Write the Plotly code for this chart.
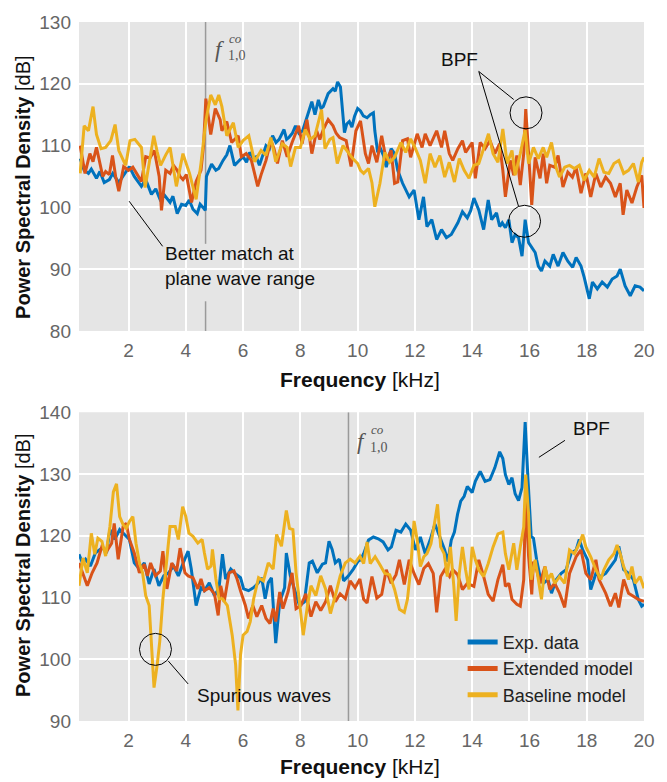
import plotly.graph_objects as go

# ---------------- data ----------------
# Top panel
top_exp_f = [0.31,0.45,0.6,0.7,0.88,1.0,1.15,1.33,1.45,1.66,1.8,2.03,2.2,2.45,2.6,2.8,2.95,3.1,3.25,3.45,3.55,3.7,3.85,4.0,4.12,4.25,4.4,4.5,4.6,4.68,4.72,4.9,5.05,5.15,5.3,5.43,5.54,5.7,5.85,6.0,6.12,6.23,6.35,6.46,6.57,6.7,6.8,6.92,7.03,7.15,7.26,7.43,7.52,7.6,7.72,7.83,7.95,8.08,8.23,8.32,8.4,8.51,8.63,8.72,8.8,8.97,9.14,9.22,9.3,9.4,9.47,9.54,9.62,9.71,9.8,9.89,10.0,10.1,10.2,10.33,10.44,10.55,10.6,10.7,10.8,10.9,11.0,11.08,11.17,11.29,11.4,11.57,11.7,11.8,11.97,12.05,12.14,12.3,12.42,12.59,12.68,12.76,12.93,13.1,13.27,13.38,13.5,13.66,13.83,13.95,14.06,14.23,14.4,14.56,14.68,14.85,14.96,15.05,15.16,15.28,15.39,15.5,15.62,15.74,15.85,15.97,16.08,16.2,16.31,16.42,16.54,16.71,16.83,17.0,17.17,17.34,17.51,17.63,17.8,17.91,18.09,18.2,18.37,18.54,18.72,18.89,19.06,19.17,19.34,19.52,19.69,19.86,20.0]
top_exp_v = [107.9,106.0,105.5,106.2,104.7,105.8,104.0,104.5,105.5,104.0,105.0,106.6,105.0,103.4,104.5,102.1,103.0,101.3,102.0,100.8,101.8,99.0,100.5,100.3,101.2,99.7,99.0,100.5,100.0,99.5,105.0,107.0,106.0,106.3,107.6,108.5,110.0,106.8,107.5,108.2,107.3,108.9,108.0,108.2,106.8,108.5,110.0,109.5,111.6,110.5,111.0,112.6,111.0,111.3,112.0,113.2,112.0,112.4,114.5,116.0,117.1,115.0,117.4,116.0,116.3,118.4,119.2,118.8,120.3,119.5,116.0,112.1,113.5,113.9,113.0,114.7,116.0,115.6,114.8,114.5,115.0,115.3,112.4,108.9,109.5,108.4,106.5,108.0,109.5,108.7,106.0,103.9,102.5,101.7,102.8,100.5,98.0,101.7,96.9,98.0,96.5,94.8,96.4,95.1,95.6,96.5,97.5,99.3,98.3,99.5,101.5,99.6,96.4,101.2,98.0,99.1,96.9,97.5,96.7,98.0,94.3,95.6,95.1,92.1,98.0,94.3,93.5,92.7,90.5,89.7,91.3,90.5,92.4,90.5,92.7,91.3,90.3,91.9,90.5,88.7,85.2,87.9,86.8,87.9,87.1,88.4,88.9,90.0,87.3,85.7,87.3,87.1,86.5]

top_ext_f = [0.31,0.48,0.65,0.76,0.88,1.0,1.1,1.2,1.33,1.44,1.55,1.66,1.83,2.0,2.15,2.28,2.45,2.6,2.75,2.9,3.07,3.15,3.3,3.45,3.57,3.7,3.8,3.9,4.02,4.2,4.36,4.53,4.62,4.7,4.87,5.03,5.2,5.26,5.43,5.6,5.72,5.83,5.94,6.11,6.29,6.4,6.51,6.63,6.8,6.97,7.08,7.2,7.37,7.54,7.71,7.94,8.06,8.23,8.4,8.57,8.68,8.8,8.97,9.14,9.25,9.37,9.6,9.77,9.94,10.1,10.27,10.38,10.5,10.67,10.84,11.0,11.17,11.29,11.4,11.57,11.74,11.85,12.08,12.25,12.36,12.53,12.76,12.93,13.04,13.2,13.32,13.5,13.66,13.77,14.0,14.11,14.28,14.45,14.62,14.79,14.96,15.07,15.16,15.33,15.45,15.56,15.68,15.8,15.87,15.97,16.08,16.2,16.37,16.48,16.6,16.71,16.88,17.0,17.17,17.34,17.5,17.63,17.8,17.97,18.14,18.32,18.49,18.66,18.83,19.0,19.17,19.27,19.4,19.58,19.75,19.92,20.0]
top_ext_v = [110.0,105.5,108.7,107.4,109.7,107.0,105.0,105.8,105.3,108.4,105.0,102.6,106.6,106.0,106.5,105.5,104.2,108.2,108.0,109.2,105.0,99.5,106.0,105.5,106.8,106.0,105.0,104.5,105.3,100.8,104.2,106.0,110.0,117.6,111.8,116.0,114.2,112.4,113.9,110.5,111.0,111.6,108.2,108.7,107.6,105.5,103.4,105.3,107.6,110.8,109.5,107.1,110.8,108.2,110.5,113.2,110.3,114.2,108.7,112.4,111.0,112.6,114.2,113.2,112.0,111.3,110.8,106.6,112.4,114.0,108.7,107.1,110.0,107.3,111.6,107.6,109.2,103.9,104.1,110.8,111.1,108.1,111.9,109.7,111.9,110.0,112.4,109.7,112.4,108.7,107.6,109.5,110.8,108.9,110.5,104.7,110.5,109.5,110.8,108.7,110.3,106.0,101.7,107.6,105.2,108.4,103.6,108.7,115.9,108.7,100.4,108.1,104.7,108.7,103.9,106.8,106.5,108.4,103.3,105.7,104.9,106.5,102.3,105.5,101.7,105.5,103.3,104.9,103.9,101.7,103.9,98.8,102.8,100.7,103.3,105.2,99.9]

top_base_f = [0.31,0.45,0.6,0.76,0.88,1.04,1.2,1.38,1.53,1.66,1.9,2.05,2.22,2.45,2.58,2.75,2.88,3.0,3.12,3.3,3.45,3.67,3.9,4.02,4.13,4.36,4.53,4.7,4.87,5.03,5.15,5.26,5.43,5.66,5.83,6.0,6.2,6.4,6.63,6.8,6.97,7.14,7.37,7.54,7.66,7.83,8.0,8.17,8.34,8.51,8.74,8.86,9.03,9.14,9.29,9.49,9.66,9.83,10.0,10.1,10.21,10.38,10.5,10.6,10.78,10.95,11.12,11.29,11.51,11.68,11.85,12.02,12.19,12.36,12.53,12.7,12.87,13.04,13.2,13.38,13.55,13.72,13.89,14.06,14.23,14.4,14.57,14.73,14.9,15.07,15.22,15.39,15.5,15.68,15.85,15.97,16.14,16.31,16.48,16.6,16.77,16.94,17.05,17.23,17.4,17.57,17.74,17.91,18.09,18.26,18.43,18.6,18.77,18.95,19.12,19.29,19.46,19.63,19.8,19.92,20.0]
top_base_v = [105.5,113.2,112.4,116.3,111.8,109.5,109.7,110.8,113.4,109.2,106.8,110.8,111.0,109.7,103.2,108.0,111.6,109.0,106.8,108.5,109.7,103.4,108.7,107.0,105.5,101.3,107.1,114.0,118.2,116.6,118.2,116.3,111.6,113.7,109.7,110.8,111.6,107.4,109.2,108.4,111.3,107.4,110.3,109.7,106.6,109.7,109.7,112.6,111.0,111.6,115.8,109.5,111.0,111.3,107.1,110.0,108.9,107.9,107.1,106.0,105.5,106.3,104.0,100.1,103.9,108.9,107.3,108.1,110.5,108.9,111.1,109.5,107.6,103.9,108.7,106.5,108.4,104.9,107.3,104.1,107.9,106.0,104.7,106.8,107.1,109.5,111.9,108.7,107.3,112.7,107.1,109.2,105.2,108.7,112.5,107.1,109.7,107.9,109.7,108.1,110.5,106.3,104.9,106.5,106.8,106.3,106.8,104.4,106.0,104.9,107.9,105.7,105.5,107.1,107.6,105.5,106.0,107.1,104.1,107.3,108.1]

# Bottom panel
bot_exp_f = [0.27,0.39,0.5,0.67,0.84,1.07,1.24,1.35,1.52,1.69,1.86,2.03,2.2,2.38,2.55,2.72,2.89,3.06,3.23,3.4,3.57,3.74,3.91,4.08,4.19,4.36,4.53,4.65,4.82,5.0,5.16,5.28,5.39,5.57,5.74,5.91,6.02,6.19,6.37,6.54,6.65,6.77,6.88,6.99,7.14,7.28,7.45,7.51,7.65,7.79,7.97,8.14,8.31,8.42,8.59,8.77,8.88,9.0,9.11,9.22,9.36,9.51,9.68,9.85,10.02,10.1,10.21,10.38,10.55,10.72,10.89,11.06,11.18,11.34,11.51,11.68,11.85,12.02,12.19,12.36,12.53,12.7,12.87,13.04,13.15,13.27,13.38,13.49,13.6,13.72,13.83,14.0,14.11,14.28,14.45,14.62,14.79,14.96,15.07,15.16,15.28,15.39,15.5,15.62,15.74,15.85,15.94,16.06,16.14,16.25,16.37,16.48,16.65,16.77,16.94,17.11,17.28,17.46,17.63,17.74,17.86,18.03,18.14,18.32,18.49,18.66,18.83,19.0,19.12,19.29,19.46,19.63,19.8,19.92,20.0]
bot_exp_v = [117.0,115.6,116.2,115.1,117.2,118.0,117.5,121.0,119.4,121.0,120.2,119.4,115.6,114.6,115.6,112.2,114.6,111.9,113.5,114.0,115.1,113.5,115.6,117.5,114.6,108.7,111.6,111.1,112.4,110.3,111.5,117.0,113.0,114.6,113.8,113.2,111.4,111.1,111.6,112.4,113.2,109.8,112.4,113.2,102.6,109.3,111.6,117.2,113.5,111.4,108.7,109.3,115.6,115.9,114.0,115.4,115.6,119.1,117.8,115.6,116.2,112.7,113.5,114.6,115.9,116.1,117.1,119.3,119.8,119.5,119.0,117.7,118.2,120.9,120.6,121.9,120.9,117.7,119.8,117.1,119.3,121.9,119.8,117.7,115.8,119.3,120.6,123.5,125.6,126.4,128.0,127.0,128.8,130.4,128.8,129.1,131.0,133.6,132.5,129.9,128.3,129.4,126.8,125.7,127.8,138.4,129.9,119.9,119.6,116.1,113.4,112.3,112.9,110.7,112.9,113.9,114.5,117.2,117.7,119.4,117.7,116.1,111.3,113.9,113.4,113.9,115.0,116.1,118.3,114.5,113.9,112.9,109.7,108.6,108.9]

bot_ext_f = [0.27,0.39,0.56,0.73,0.9,1.07,1.24,1.41,1.5,1.64,1.81,1.92,2.03,2.2,2.38,2.55,2.66,2.77,2.94,3.11,3.2,3.34,3.51,3.68,3.8,3.97,4.08,4.25,4.42,4.53,4.65,4.82,5.0,5.13,5.22,5.34,5.51,5.68,5.79,5.91,6.08,6.19,6.34,6.48,6.65,6.8,6.94,7.05,7.14,7.28,7.39,7.57,7.71,7.85,8.02,8.19,8.37,8.54,8.71,8.88,9.05,9.22,9.39,9.57,9.74,9.91,10.08,10.21,10.33,10.5,10.67,10.84,11.0,11.17,11.34,11.46,11.63,11.8,11.97,12.14,12.31,12.47,12.64,12.76,12.9,13.04,13.21,13.32,13.49,13.66,13.83,14.06,14.23,14.4,14.56,14.73,14.9,15.07,15.16,15.28,15.39,15.56,15.68,15.8,15.87,15.97,16.08,16.14,16.25,16.37,16.54,16.71,16.88,17.05,17.23,17.4,17.63,17.8,17.97,18.14,18.32,18.43,18.66,18.83,19.0,19.12,19.29,19.46,19.63,19.8,20.0]
bot_ext_v = [115.6,114.0,111.9,114.0,115.6,118.3,117.5,118.8,122.0,116.2,121.5,122.0,119.4,117.2,114.0,115.4,113.5,115.6,113.5,114.3,117.5,111.4,115.6,114.3,118.0,114.0,113.5,113.2,111.4,113.0,111.1,111.6,110.6,107.1,111.9,109.3,114.0,114.3,113.0,111.1,108.7,106.6,108.7,106.9,108.7,106.6,105.8,108.2,106.1,110.9,108.2,110.9,114.0,108.2,108.7,110.6,106.9,109.3,107.9,109.3,111.9,109.3,110.6,109.8,112.7,111.6,113.0,109.7,109.1,113.4,109.9,110.5,114.5,112.3,113.7,116.1,112.1,116.1,113.9,112.1,114.7,115.5,113.9,107.6,113.4,114.5,113.4,114.5,113.7,111.3,112.3,111.8,116.1,113.4,110.5,109.4,112.9,115.3,111.8,112.3,109.7,108.9,108.6,112.9,127.0,116.7,110.5,115.8,114.5,112.3,115.0,111.3,112.3,110.7,108.4,113.9,116.6,117.7,113.9,112.9,116.1,112.9,110.7,108.6,110.7,108.4,112.9,110.7,110.2,109.7,109.4]

bot_base_f = [0.27,0.41,0.56,0.7,0.82,0.93,1.07,1.2,1.35,1.47,1.58,1.69,1.81,1.92,2.03,2.15,2.26,2.38,2.49,2.6,2.72,2.8,2.89,3.0,3.09,3.2,3.34,3.45,3.63,3.74,3.89,4.0,4.11,4.25,4.42,4.57,4.65,4.76,4.88,4.93,5.05,5.16,5.28,5.45,5.62,5.74,5.82,5.91,6.0,6.14,6.25,6.37,6.54,6.71,6.88,7.05,7.17,7.34,7.51,7.62,7.74,7.85,7.97,8.1,8.25,8.37,8.54,8.71,8.88,9.05,9.22,9.39,9.57,9.74,9.91,10.08,10.21,10.33,10.44,10.61,10.78,10.95,11.12,11.29,11.46,11.63,11.74,11.85,11.97,12.08,12.19,12.31,12.42,12.56,12.68,12.79,12.9,13.02,13.13,13.24,13.36,13.44,13.55,13.66,13.77,13.89,14.0,14.11,14.23,14.4,14.56,14.73,14.9,15.07,15.16,15.28,15.45,15.56,15.68,15.8,15.87,15.97,16.06,16.2,16.31,16.42,16.54,16.65,16.77,16.88,17.05,17.23,17.4,17.57,17.74,17.86,17.97,18.14,18.32,18.49,18.6,18.77,18.95,19.06,19.17,19.29,19.46,19.58,19.69,19.86,20.0]
bot_base_v = [111.9,116.4,114.0,120.4,117.0,119.6,119.1,116.7,121.5,127.1,128.4,123.1,121.8,121.2,122.3,123.1,118.8,115.6,114.0,110.3,108.7,101.8,95.4,99.1,102.9,109.8,116.7,121.5,121.5,119.4,124.7,123.1,120.4,119.9,118.8,119.4,117.2,114.6,115.1,117.8,113.0,109.8,109.8,108.7,103.9,99.1,91.7,100.7,103.9,104.5,106.1,109.8,113.2,112.7,115.6,114.6,120.2,118.3,124.1,121.2,121.0,114.0,109.3,103.9,108.7,111.9,110.3,113.5,111.4,107.4,110.3,113.5,115.6,116.2,115.6,116.7,115.5,119.0,115.5,116.6,115.3,113.9,113.7,111.3,108.1,107.6,109.7,114.5,122.4,119.3,115.0,116.6,117.1,118.7,121.9,125.1,118.2,117.1,113.4,118.2,111.8,106.2,113.9,118.2,114.5,111.3,118.2,116.1,114.5,113.4,115.5,118.2,120.3,120.6,117.1,114.5,118.8,114.5,118.2,121.4,129.9,123.5,112.9,116.1,112.9,109.7,115.0,112.9,113.9,112.3,113.4,112.3,117.7,117.1,118.7,120.2,118.2,116.6,114.5,112.9,114.5,116.1,117.1,118.5,117.1,115.0,112.9,115.0,112.3,113.4,111.5]

series_names = ["Exp. data", "Extended model", "Baseline model"]
series_colors = ["#0072BD", "#D95319", "#EDB120"]

f_cutoff_top = 4.69      # kHz, first cut-on frequency (top panel)
f_cutoff_bot = 9.68      # kHz, first cut-on frequency (bottom panel)

x_ticks = [2, 4, 6, 8, 10, 12, 14, 16, 18, 20]
top_yticks = [80, 90, 100, 110, 120, 130]
bot_yticks = [90, 100, 110, 120, 130, 140]

# ---------------- figure ----------------
FONT = "Liberation Sans, Arial, Helvetica, sans-serif"
SERIF = "Liberation Serif, DejaVu Serif, serif"
GRAY_LINE = "#9a9a9a"

fig = go.Figure()

# cut-on lines (drawn first, under data)
fig.add_trace(go.Scatter(x=[f_cutoff_top, f_cutoff_top, None, f_cutoff_top, f_cutoff_top],
                         y=[130, 94.1, None, 84.8, 80], mode="lines",
                         line=dict(color=GRAY_LINE, width=1.5), showlegend=False,
                         hoverinfo="skip", xaxis="x", yaxis="y"))
fig.add_trace(go.Scatter(x=[f_cutoff_bot, f_cutoff_bot], y=[90, 140], mode="lines",
                         line=dict(color=GRAY_LINE, width=1.5), showlegend=False,
                         hoverinfo="skip", xaxis="x2", yaxis="y2"))

top_data = [(top_exp_f, top_exp_v), (top_ext_f, top_ext_v), (top_base_f, top_base_v)]
bot_data = [(bot_exp_f, bot_exp_v), (bot_ext_f, bot_ext_v), (bot_base_f, bot_base_v)]

for (fx, fv), name, col in zip(top_data, series_names, series_colors):
    fig.add_trace(go.Scatter(x=fx, y=fv, mode="lines", name=name,
                             line=dict(color=col, width=3), showlegend=False,
                             xaxis="x", yaxis="y"))
for (fx, fv), name, col in zip(bot_data, series_names, series_colors):
    fig.add_trace(go.Scatter(x=fx, y=fv, mode="lines", name=name,
                             line=dict(color=col, width=3), showlegend=True,
                             xaxis="x2", yaxis="y2"))

axis_common = dict(showgrid=True, gridcolor="white", gridwidth=2,
                   zeroline=False, showline=False, ticks="",
                   tickfont=dict(family=FONT, size=19, color="#666666"))

fig.update_layout(
    width=667, height=782,
    margin=dict(l=79, r=13, t=13, b=61),
    paper_bgcolor="white", plot_bgcolor="#e5e5e5",
    font=dict(family=FONT, size=18, color="#222222"),
    xaxis=dict(domain=[0, 1], anchor="y", range=[0.27, 20], tickvals=x_ticks,
               ticklabelstandoff=6, **axis_common),
    yaxis=dict(domain=[0.558, 1.0], anchor="x", range=[80, 130], tickvals=top_yticks,
               ticklabelstandoff=7, **axis_common),
    xaxis2=dict(domain=[0, 1], anchor="y2", range=[0.27, 20], tickvals=x_ticks,
                ticklabelstandoff=6, **axis_common),
    yaxis2=dict(domain=[0, 0.4417], anchor="x2", range=[90, 140], tickvals=bot_yticks,
                ticklabelstandoff=7, **axis_common),
    legend=dict(x=0.679, xanchor="left", y=0.139, yanchor="top",
                bgcolor="rgba(0,0,0,0)", borderwidth=0,
                font=dict(family=FONT, size=18, color="#222222"),
                tracegroupgap=0, itemsizing="constant"),
    showlegend=True,
)

annotations = []
# axis titles
for yc in (0.7627, 0.2218):
    annotations.append(dict(xref="paper", yref="paper", x=-0.0991, y=yc,
                            text="<b>Power Spectral Density</b> [dB]", textangle=-90,
                            showarrow=False, font=dict(family=FONT, size=20, color="#111111"),
                            xanchor="center", yanchor="middle"))
for yc in (0.4887, -0.065):
    annotations.append(dict(xref="paper", yref="paper", x=0.498, y=yc,
                            text="<b>Frequency</b> [kHz]", showarrow=False,
                            font=dict(family=FONT, size=21, color="#111111"),
                            xanchor="center", yanchor="middle"))

# f^{co}_{1,0} labels
def cut_label(xr, yr, fx, fy, cox, coy, sx, sy):
    out = []
    out.append(dict(xref=xr, yref=yr, x=fx, y=fy, text="<i>f</i>", showarrow=False,
                    xanchor="right", borderpad=0,
                    font=dict(family=SERIF, size=23, color="#555555")))
    out.append(dict(xref=xr, yref=yr, x=cox, y=coy, text="<i>co</i>", showarrow=False,
                    xanchor="left", borderpad=0,
                    font=dict(family=SERIF, size=13, color="#555555")))
    out.append(dict(xref=xr, yref=yr, x=sx, y=sy, text="1,0", showarrow=False,
                    xanchor="left", borderpad=0,
                    font=dict(family=SERIF, size=14, color="#555555")))
    return out

annotations += cut_label("x", "y", 5.40, 125.6, 5.47, 127.35, 5.44, 124.55)
annotations += cut_label("x2", "y2", 10.37, 135.3, 10.44, 137.15, 10.41, 134.3)

# text annotations
annotations.append(dict(xref="x", yref="y", x=13.56, y=124.0, text="BPF", showarrow=False,
                        font=dict(family=FONT, size=19, color="#111111")))
annotations.append(dict(xref="x", yref="y", x=3.22, y=90.5,
                        text="Better match at<br>plane wave range", showarrow=False,
                        align="left", xanchor="left", yanchor="middle",
                        font=dict(family=FONT, size=19, color="#111111")))
annotations.append(dict(xref="x2", yref="y2", x=6.74, y=94.1, text="Spurious waves",
                        showarrow=False, font=dict(family=FONT, size=19, color="#111111")))
annotations.append(dict(xref="x2", yref="y2", x=18.17, y=137.3, text="BPF", showarrow=False,
                        font=dict(family=FONT, size=19, color="#111111")))
fig.update_layout(annotations=annotations)

# pointer lines and circles
shapes = []
def seg(xr, yr, x0, y0, x1, y1):
    return dict(type="line", xref=xr, yref=yr, x0=x0, y0=y0, x1=x1, y1=y1,
                line=dict(color="black", width=1), layer="above")

def ring(xr, yr, xc, yc, r=16):
    return dict(type="circle", xref=xr, yref=yr, xsizemode="pixel", ysizemode="pixel",
                xanchor=xc, yanchor=yc, x0=-r, x1=r, y0=-r, y1=r,
                line=dict(color="black", width=1), layer="above")

shapes.append(seg("x", "y", 14.23, 122.0, 15.45, 117.46))
shapes.append(seg("x", "y", 14.23, 122.0, 15.62, 100.15))
shapes.append(ring("x", "y", 15.88, 115.3))
shapes.append(ring("x", "y", 15.83, 97.75))
shapes.append(seg("x", "y", 2.02, 101.0, 3.19, 93.7))
shapes.append(ring("x2", "y2", 2.94, 101.6))
shapes.append(seg("x2", "y2", 3.39, 99.7, 4.08, 96.0))
shapes.append(seg("x2", "y2", 17.24, 135.45, 16.33, 132.7))
fig.update_layout(shapes=shapes)

fig.write_html("out.html")
